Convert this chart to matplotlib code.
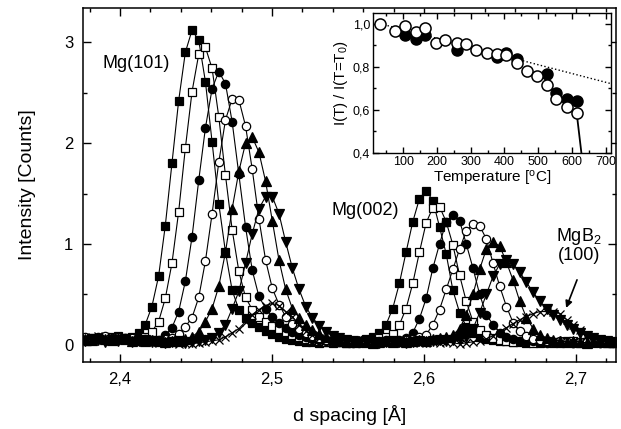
import numpy as np
import matplotlib.pyplot as plt
from matplotlib.ticker import MultipleLocator

plt.rcParams['font.family'] = ['Liberation Sans', 'DejaVu Sans']
plt.rcParams['mathtext.fontset'] = 'custom'
plt.rcParams['mathtext.rm'] = 'Liberation Sans'
plt.rcParams['mathtext.it'] = 'Liberation Sans:italic'

# d spacing grid of the scans (Angstrom)
d_spacing = [
    2.3770, 2.3814, 2.3858, 2.3902, 2.3946, 2.3990, 2.4034, 2.4078, 2.4122, 2.4166,
    2.4210, 2.4254, 2.4298, 2.4342, 2.4386, 2.4430, 2.4474, 2.4518, 2.4562, 2.4606,
    2.4650, 2.4694, 2.4738, 2.4782, 2.4826, 2.4870, 2.4914, 2.4958, 2.5002, 2.5046,
    2.5090, 2.5134, 2.5178, 2.5222, 2.5266, 2.5310, 2.5354, 2.5398, 2.5442, 2.5486,
    2.5530, 2.5574, 2.5618, 2.5662, 2.5706, 2.5750, 2.5794, 2.5838, 2.5882, 2.5926,
    2.5970, 2.6014, 2.6058, 2.6102, 2.6146, 2.6190, 2.6234, 2.6278, 2.6322, 2.6366,
    2.6410, 2.6454, 2.6498, 2.6542, 2.6586, 2.6630, 2.6674, 2.6718, 2.6762, 2.6806,
    2.6850, 2.6894, 2.6938, 2.6982, 2.7026, 2.7070, 2.7114, 2.7158, 2.7202, 2.7246,
]

# intensities of the successive scans
scan_1 = [
    0.05, 0.07, 0.06, 0.08, 0.07, 0.09, 0.06, 0.08, 0.12, 0.20,
    0.38, 0.68, 1.18, 1.80, 2.42, 2.90, 3.12, 3.02, 2.61, 2.01,
    1.40, 0.92, 0.54, 0.35, 0.27, 0.22, 0.18, 0.14, 0.11, 0.08,
    0.06, 0.05, 0.04, 0.03, 0.03, 0.02, 0.03, 0.02, 0.03, 0.02,
    0.03, 0.04, 0.06, 0.08, 0.12, 0.20, 0.36, 0.61, 0.92, 1.22,
    1.45, 1.53, 1.43, 1.17, 0.90, 0.54, 0.32, 0.18, 0.12, 0.08,
    0.06, 0.05, 0.04, 0.04, 0.03, 0.03, 0.02, 0.03, 0.02, 0.03,
    0.02, 0.03, 0.04, 0.03, 0.02, 0.03, 0.04, 0.03, 0.02, 0.03,
]
scan_2 = [
    0.06, 0.05, 0.07, 0.06, 0.08, 0.06, 0.07, 0.05, 0.06, 0.08,
    0.13, 0.23, 0.46, 0.81, 1.32, 1.95, 2.51, 2.88, 2.95, 2.74,
    2.26, 1.68, 1.14, 0.73, 0.47, 0.35, 0.28, 0.23, 0.19, 0.16,
    0.13, 0.10, 0.08, 0.06, 0.05, 0.04, 0.03, 0.04, 0.03, 0.02,
    0.03, 0.04, 0.05, 0.05, 0.07, 0.08, 0.11, 0.20, 0.36, 0.61,
    0.92, 1.21, 1.36, 1.37, 1.22, 0.99, 0.69, 0.43, 0.23, 0.15,
    0.10, 0.07, 0.05, 0.04, 0.03, 0.04, 0.03, 0.02, 0.03, 0.04,
    0.03, 0.02, 0.03, 0.04, 0.03, 0.02, 0.03, 0.04, 0.03, 0.02,
]
scan_3 = [
    0.07, 0.06, 0.08, 0.07, 0.06, 0.08, 0.07, 0.05, 0.06, 0.05,
    0.04, 0.05, 0.10, 0.17, 0.33, 0.63, 1.07, 1.63, 2.15, 2.54,
    2.71, 2.59, 2.21, 1.69, 1.17, 0.74, 0.48, 0.36, 0.28, 0.22,
    0.17, 0.13, 0.10, 0.08, 0.06, 0.05, 0.04, 0.03, 0.04, 0.03,
    0.02, 0.03, 0.04, 0.03, 0.04, 0.05, 0.04, 0.05, 0.07, 0.12,
    0.26, 0.46, 0.76, 1.00, 1.22, 1.29, 1.23, 1.00, 0.76, 0.50,
    0.30, 0.20, 0.12, 0.08, 0.06, 0.04, 0.03, 0.04, 0.03, 0.02,
    0.03, 0.04, 0.03, 0.02, 0.03, 0.04, 0.03, 0.02, 0.03, 0.03,
]
scan_4 = [
    0.08, 0.06, 0.07, 0.09, 0.07, 0.08, 0.06, 0.07, 0.05, 0.06,
    0.05, 0.04, 0.06, 0.07, 0.11, 0.18, 0.27, 0.47, 0.83, 1.30,
    1.81, 2.23, 2.44, 2.43, 2.17, 1.74, 1.25, 0.84, 0.56, 0.40,
    0.28, 0.21, 0.16, 0.12, 0.09, 0.07, 0.05, 0.04, 0.03, 0.04,
    0.03, 0.02, 0.03, 0.04, 0.03, 0.04, 0.03, 0.04, 0.05, 0.06,
    0.08, 0.10, 0.20, 0.35, 0.55, 0.75, 0.95, 1.13, 1.20, 1.18,
    1.05, 0.81, 0.58, 0.38, 0.22, 0.14, 0.09, 0.06, 0.05, 0.04,
    0.03, 0.04, 0.03, 0.02, 0.03, 0.04, 0.03, 0.02, 0.03, 0.02,
]
scan_5 = [
    0.06, 0.05, 0.07, 0.06, 0.05, 0.07, 0.06, 0.04, 0.05, 0.04,
    0.05, 0.04, 0.03, 0.04, 0.04, 0.06, 0.08, 0.13, 0.23, 0.36,
    0.58, 0.92, 1.35, 1.72, 2.00, 2.06, 1.91, 1.62, 1.23, 0.84,
    0.55, 0.36, 0.27, 0.20, 0.15, 0.11, 0.08, 0.06, 0.05, 0.04,
    0.03, 0.04, 0.03, 0.02, 0.03, 0.04, 0.03, 0.04, 0.03, 0.04,
    0.05, 0.04, 0.06, 0.07, 0.08, 0.10, 0.16, 0.30, 0.50, 0.75,
    0.95, 1.02, 0.98, 0.82, 0.64, 0.43, 0.27, 0.16, 0.10, 0.07,
    0.05, 0.04, 0.03, 0.04, 0.03, 0.02, 0.03, 0.04, 0.03, 0.03,
]
scan_6 = [
    0.04, 0.06, 0.05, 0.03, 0.05, 0.04, 0.06, 0.03, 0.04, 0.05,
    0.03, 0.04, 0.02, 0.03, 0.04, 0.02, 0.03, 0.04, 0.05, 0.07,
    0.12, 0.20, 0.36, 0.53, 0.81, 1.10, 1.35, 1.47, 1.47, 1.30,
    1.02, 0.76, 0.55, 0.38, 0.27, 0.19, 0.13, 0.09, 0.07, 0.05,
    0.04, 0.03, 0.04, 0.03, 0.02, 0.03, 0.04, 0.03, 0.02, 0.03,
    0.04, 0.03, 0.04, 0.05, 0.04, 0.05, 0.06, 0.08, 0.16, 0.32,
    0.50, 0.68, 0.80, 0.84, 0.80, 0.72, 0.62, 0.52, 0.43, 0.36,
    0.30, 0.25, 0.20, 0.16, 0.12, 0.09, 0.07, 0.05, 0.04, 0.03,
]
scan_7 = [
    0.08, 0.07, 0.09, 0.08, 0.07, 0.08, 0.06, 0.07, 0.05, 0.04,
    0.03, 0.02, 0.03, 0.02, 0.01, 0.02, 0.01, 0.02, 0.03, 0.04,
    0.05, 0.08, 0.12, 0.16, 0.23, 0.30, 0.35, 0.39, 0.41, 0.39,
    0.33, 0.28, 0.20, 0.14, 0.10, 0.07, 0.05, 0.04, 0.03, 0.04,
    0.03, 0.04, 0.03, 0.02, 0.03, 0.02, 0.03, 0.02, 0.03, 0.02,
    0.03, 0.02, 0.03, 0.02, 0.03, 0.02, 0.01, 0.02, 0.03, 0.04,
    0.06, 0.09, 0.13, 0.17, 0.21, 0.25, 0.28, 0.31, 0.33, 0.33,
    0.33, 0.31, 0.25, 0.20, 0.15, 0.09, 0.06, 0.04, 0.03, 0.03,
]
scans = [scan_1, scan_2, scan_3, scan_4, scan_5, scan_6, scan_7]

x_ticks = [2.4, 2.5, 2.6, 2.7]
x_tick_labels = ['2,4', '2,5', '2,6', '2,7']
y_ticks = [0, 1, 2, 3]
y_tick_labels = ['0', '1', '2', '3']

# inset: normalised intensity vs temperature
temp_filled = [105, 138, 165, 260, 377, 406, 436, 526, 554, 584, 614]
ratio_filled = [0.949, 0.928, 0.949, 0.879, 0.848, 0.866, 0.835, 0.767, 0.677, 0.653, 0.641]
temp_open = [32, 75, 105, 138, 165, 198, 225, 260, 287, 317,
             347, 377, 406, 436, 466, 496, 526, 554, 584, 614]
ratio_open = [1.000, 0.967, 0.990, 0.964, 0.980, 0.913, 0.925, 0.913, 0.907, 0.879,
              0.866, 0.858, 0.855, 0.817, 0.780, 0.757, 0.718, 0.653, 0.614, 0.588]
fit_temp = [32, 716]
fit_ratio = [1.0, 0.722]
drop_temp = [614, 632]
drop_ratio = [0.588, 0.35]

inset_x_ticks = [100, 200, 300, 400, 500, 600, 700]
inset_x_tick_labels = ['100', '200', '300', '400', '500', '600', '700']
inset_y_ticks = [0.4, 0.6, 0.8, 1.0]
inset_y_tick_labels = ['0,4', '0,6', '0,8', '1,0']

fig = plt.figure(figsize=(6.21, 4.29), dpi=100)
ax = fig.add_axes([0.1337, 0.1562, 0.8583, 0.8252])

styles = [('s', 'k'), ('s', 'w'), ('o', 'k'), ('o', 'w'), ('^', 'k'), ('v', 'k'), ('x', 'k')]
for y, (m, fc) in zip(scans, styles):
    size = 6.5 if m in '^v' else 6
    ax.plot(d_spacing, y, color='k', lw=0.8, marker=m, ms=size, mfc=fc, mec='k', mew=0.9)

ax.set_xlim(2.3757, 2.7263)
ax.set_ylim(-0.17, 3.34)
ax.set_xticks(x_ticks)
ax.set_xticklabels(x_tick_labels)
ax.set_yticks(y_ticks)
ax.set_yticklabels(y_tick_labels)
ax.xaxis.set_minor_locator(MultipleLocator(0.02))
ax.yaxis.set_minor_locator(MultipleLocator(0.5))
ax.tick_params(which='both', direction='in', top=True, right=True, labelsize=12, width=1)
ax.tick_params(which='major', length=6, pad=7)
ax.tick_params(which='minor', length=3)
for s in ax.spines.values():
    s.set_linewidth(1.1)
ax.set_xlabel('d spacing [Å]', fontsize=14, labelpad=13)
ax.set_ylabel('Intensity [Counts]', fontsize=14, labelpad=20)

ax.text(2.4105, 2.79, 'Mg(101)', fontsize=13, ha='center', va='center')
ax.text(2.5612, 1.33, 'Mg(002)', fontsize=13, ha='center', va='center')
ax.text(2.7018, 0.99, 'MgB$_2$\n(100)', fontsize=13, ha='center', va='center', linespacing=1.0)
ax.annotate('', xy=(2.6928, 0.34), xytext=(2.7013, 0.67),
            arrowprops=dict(arrowstyle='-|>', color='k', lw=1.2, mutation_scale=10))

# inset
ax2 = fig.add_axes([373 / 621, 1 - 153 / 429, 238 / 621, 140 / 429])
ax2.plot(fit_temp, fit_ratio, ls=':', color='k', lw=1)
ax2.plot(drop_temp, drop_ratio, color='k', lw=1.3)
ax2.plot(temp_filled, ratio_filled, ls='none', marker='o', ms=8, mfc='k', mec='k')
ax2.plot(temp_open, ratio_open, ls='none', marker='o', ms=8, mfc='w', mec='k', mew=1.1)
ax2.set_xlim(10, 716)
ax2.set_ylim(0.4, 1.05)
ax2.set_xticks(inset_x_ticks)
ax2.set_xticklabels(inset_x_tick_labels)
ax2.set_yticks(inset_y_ticks)
ax2.set_yticklabels(inset_y_tick_labels)
ax2.xaxis.set_minor_locator(MultipleLocator(50))
ax2.yaxis.set_minor_locator(MultipleLocator(0.1))
ax2.tick_params(which='both', direction='in', top=True, right=True, labelsize=9, width=1, pad=2)
ax2.tick_params(which='major', length=4)
ax2.tick_params(which='minor', length=2)
for s in ax2.spines.values():
    s.set_linewidth(1)
ax2.set_xlabel('Temperature [$^{\\mathrm{o}}$C]', fontsize=11, labelpad=1)
ax2.set_ylabel('I(T) / I(T=T$_0$)', fontsize=11, labelpad=2)

fig.savefig('out.png', dpi=100)
